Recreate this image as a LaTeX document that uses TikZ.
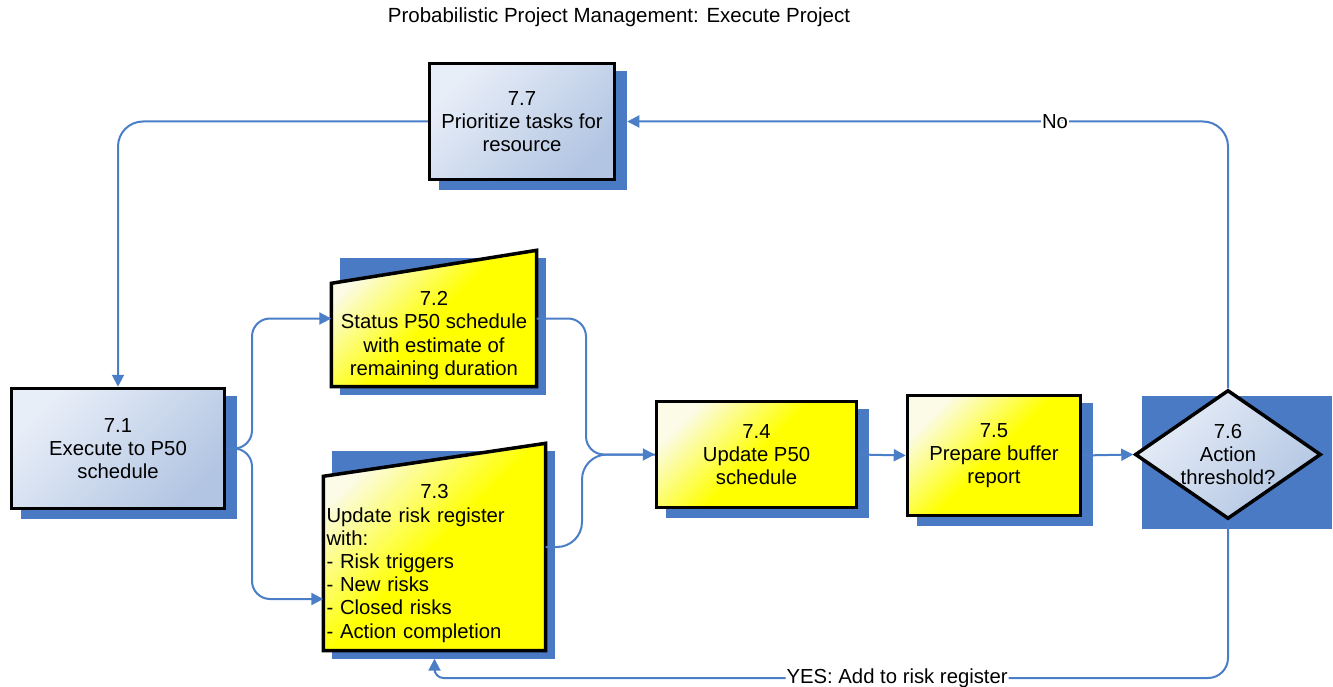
\documentclass[tikz,border=0pt]{standalone}
\usepackage{fontspec}
\setmainfont{Liberation Sans}
\usetikzlibrary{arrows.meta,shapes.geometric,backgrounds,calc}
\definecolor{shadowc}{HTML}{4A7AC4}
\definecolor{connc}{HTML}{4A7EC6}
\definecolor{bluelight}{HTML}{E8EEF8}
\definecolor{bluedark}{HTML}{B2C5E2}
\definecolor{yellowlight}{HTML}{FBFBE8}
\definecolor{yellowmain}{HTML}{FFFF00}
\newcommand\mkshadow[3]{\fill[shadowc] ($(#1)+(#3)$) rectangle ($(#2)+(#3)$);}
\begin{document}
\begin{tikzpicture}[x=1pt,y=-1pt,
  txt/.style={font=\fontsize{20.3}{23.2}\selectfont, align=center, inner sep=2pt},
  bluebox/.style={txt, rectangle, draw=black, line width=3.5pt, top color=bluelight, bottom color=bluedark, shading angle=45},
  yellowbox/.style={txt, rectangle, draw=black, line width=3.5pt, top color=yellowlight, bottom color=yellowmain, middle color=yellowmain, shading angle=45},
  yshape/.style={draw=black, line width=3.5pt, line join=miter, top color=yellowlight, bottom color=yellowmain, middle color=yellowmain, shading angle=45},
  bshape/.style={draw=black, line width=3.5pt, line join=miter, top color=bluelight, bottom color=bluedark, shading angle=45},
  frame/.style={rectangle, inner sep=0pt},
  conn/.style={draw=connc, line width=2pt, rounded corners=18pt},
  arr/.style={conn, -{Triangle[length=12pt,width=12pt]}},
  lbl/.style={font=\fontsize{20.3}{23}\selectfont, fill=white, inner sep=1pt}
]
\useasboundingbox (0,0) rectangle (1333,687);

\node[font=\fontsize{20.5}{23}\selectfont] (title) at (619,17) {Probabilistic Project Management: Execute Project};

% rectangular boxes
\node[bluebox, minimum width=185pt, minimum height=116pt] (n77) at (522,121.5) {7.7\\Prioritize tasks for\\resource};
\node[bluebox, minimum width=213pt, minimum height=120pt] (n71) at (118,448.5) {7.1\\Execute to P50\\schedule};
\node[yellowbox, minimum width=200pt, minimum height=106pt] (n74) at (756.5,454.5) {7.4\\Update P50\\schedule};
\node[yellowbox, minimum width=173pt, minimum height=120pt] (n75) at (994,455.5) {7.5\\Prepare buffer\\report};

% manual input shapes
\node[frame, minimum width=205pt, minimum height=136pt] (n72) at (434,318.5) {};
\draw[yshape] (n72.south west) -- ($(n72.north west)+(0,33)$) -- (n72.north east) -- (n72.south east) -- cycle;
\node[txt] (n72t) at (434,335.5) {7.2\\Status P50 schedule\\with estimate of\\remaining duration};

\node[frame, minimum width=222pt, minimum height=207pt] (n73) at (434.5,547) {};
\draw[yshape] (n73.south west) -- ($(n73.north west)+(0,33)$) -- (n73.north east) -- (n73.south east) -- cycle;
\node[txt, text width=216pt, align=left, inner sep=0pt] (n73t) at (434.5,563.5) {\makebox[\linewidth][c]{7.3}\\Update risk register\\with:\\- Risk triggers\\- New risks\\- Closed risks\\- Action completion};

% decision
\node[diamond, inner sep=0pt, minimum width=186pt, minimum height=129pt, bshape] (n76) at (1228,454.5) {};
\node[txt] (n76t) at (1228,454.5) {7.6\\Action\\threshold?};

% shadows
\begin{pgfonlayer}{background}
\mkshadow{n77.south west}{n77.north east}{11,9}
\mkshadow{n71.south west}{n71.north east}{11,9}
\mkshadow{n74.south west}{n74.north east}{11,9}
\mkshadow{n75.south west}{n75.north east}{11,9}
\mkshadow{n72.south west}{n72.north east}{9,8}
\mkshadow{n73.south west}{n73.north east}{9,8}
\mkshadow{n76.west |- n76.north}{n76.east |- n76.south}{9,8}
\end{pgfonlayer}

% junction coordinates
\coordinate (j1) at (252,0);
\coordinate (j2) at (586,0);
\coordinate (j3) at (582,0);
\coordinate (ybot) at (0,678);

% connectors
\draw[arr, rounded corners=25pt] (n77.west) -| (n71.north);
\draw[arr] (n71.east) -- (j1 |- n71.east) |- (n72.west);
\draw[arr] (n71.east) -- (j1 |- n71.east) |- ($(n73.west)+(0,52)$);
\draw[arr] (n72.east) -- (j2 |- n72.east) |- (n74.west);
\draw[conn, rounded corners=25pt] (n73.east) -- (j3 |- n73.east) |- (n74.west);
\draw[arr] (n74.east) -- (n75.west);
\draw[arr] (n75.east) -- (n76.west);
\draw[arr, rounded corners=25pt] (n76.north) |- ($(n77.east)+(11,0)$) node[lbl, pos=0.644] (no) {No};
\draw[arr, rounded corners=20pt] (n76.south) -- (n76.south |- ybot) [rounded corners=9pt] -| ($(n73.south)+(0,8)$) node[lbl, pos=0.2085] (yes) {YES: Add to risk register};
\end{tikzpicture}
\end{document}
